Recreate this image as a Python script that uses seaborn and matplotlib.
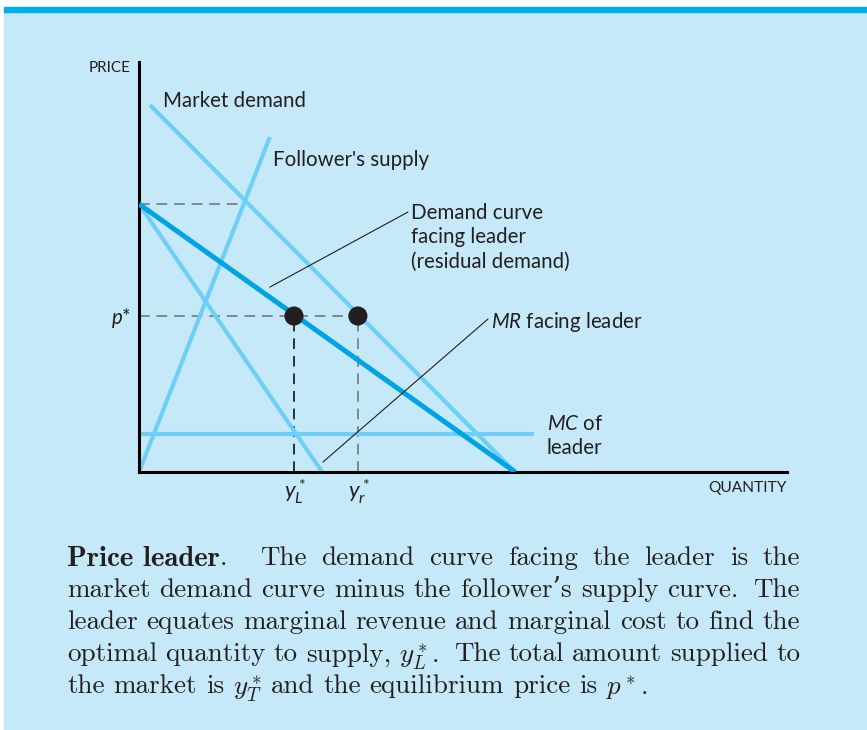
import numpy as np
import pandas as pd
import matplotlib
matplotlib.use("Agg")
import matplotlib.pyplot as plt
import seaborn as sns
from matplotlib.patches import Rectangle

# --- データ (図から読み取った値, 原点基準) ---
market_q = [0.29, 10.0]
market_p = [13.7, 0.0]
follower_q = [0.0, 3.48]
follower_p = [0.0, 12.5]
residual_q = [0.0, 10.0]
residual_p = [10.0, 0.0]
mr_q = [0.0, 4.87]
mr_p = [10.0, 0.0]
mc_q = [0.0, 10.5]
mc_p = [1.42, 1.42]
p_top, q_top = 10.0, 2.82          # 需要曲線の切片 / 追随者供給との交点
p_star = 5.82
yL_star, yr_star = 4.12, 5.82
x_max, y_max = 17.23, 15.3

caption = [
    [[("Price leader", True), (".", False)], "QUAD", "The", "demand", "curve", "facing", "the", "leader", "is", "the"],
    ["market", "demand", "curve", "minus", "the", "follower\u2019s", "supply", "curve.", "QUAD2", "The"],
    ["leader", "equates", "marginal", "revenue", "and", "marginal", "cost", "to", "find", "the"],
    ["optimal", "quantity", "to", "supply,", r"$y_L^*$.", "QUAD2", "The", "total", "amount", "supplied", "to"],
    ["the", "market", "is", r"$y_T^*$", "and", "the", "equilibrium", "price", "is", r"$p^*$."],
]

# --- スタイル ---
sns.set_theme(style="white")
plt.rcParams['font.family'] = ['Lato', 'DejaVu Sans']
plt.rcParams['mathtext.fontset'] = 'custom'
plt.rcParams['mathtext.it'] = 'Lato:italic'
plt.rcParams['mathtext.rm'] = 'Lato'

W, H = 867, 730
bg = '#c6e9f9'
light = '#6dcff6'
dark = '#00a3e4'
ink = '#231f20'
gray = '#6d6e71'

fig = plt.figure(figsize=(W / 100, H / 100), dpi=100)
fig.patch.set_facecolor('white')
fx = lambda x: x / W
fy = lambda y: 1 - y / H
fig.patches.append(Rectangle((fx(4), 0), 1, fy(11), transform=fig.transFigure, color=bg, zorder=-2))
fig.patches.append(Rectangle((fx(4), fy(12)), 1, 5 / H, transform=fig.transFigure, color='#00aeef', zorder=-2))

ax = fig.add_axes([fx(139), fy(472), 648 / W, 410 / H])
ax.set_zorder(2)
ax.set_facecolor('none')
ax.set_xlim(0, x_max); ax.set_ylim(0, y_max)
ax.set_xticks([]); ax.set_yticks([])
for s in ['top', 'right']:
    ax.spines[s].set_visible(False)
for s in ['left', 'bottom']:
    ax.spines[s].set_color('black'); ax.spines[s].set_linewidth(2.2)

# 曲線
for q, p in [(market_q, market_p), (follower_q, follower_p), (mr_q, mr_p), (mc_q, mc_p)]:
    sns.lineplot(x=q, y=p, ax=ax, color=light, lw=3.0, solid_capstyle='butt', zorder=2)
sns.lineplot(x=residual_q, y=residual_p, ax=ax, color=dark, lw=3.6, solid_capstyle='butt', zorder=3)

# 破線
dash = dict(lw=1.1, dashes=(7, 4.5), zorder=1)
ax.plot([0, q_top], [p_top, p_top], color=gray, **dash)
ax.plot([0, yr_star], [p_star, p_star], color=gray, **dash)
ax.plot([yL_star, yL_star], [0, p_star], color='black', **dash)
ax.plot([yr_star, yr_star], [0, p_star], color=gray, **dash)
sns.scatterplot(x=[yL_star, yr_star], y=[p_star, p_star], ax=ax, s=190, color='#231f20', edgecolor='none', zorder=5)

# 引き出し線
ax.plot([3.48, 7.15], [6.90, 9.70], color=ink, lw=0.8, zorder=4)
ax.plot([4.89, 9.28], [0.37, 5.71], color=ink, lw=0.8, zorder=4)

# ラベル
lab = dict(color=ink, size=14.8)
fig.text(fx(131), fy(68), 'PRICE', ha='right', va='center', color=ink, size=11)
fig.text(fx(787), fy(488), 'QUANTITY', ha='right', va='center', color=ink, size=11.2)
fig.text(fx(163), fy(101), 'Market demand', va='center', **lab)
fig.text(fx(273), fy(160), "Follower's supply", va='center', **lab)
fig.text(fx(411), fy(203), 'Demand curve\nfacing leader\n(residual demand)', va='top', linespacing=1.27, **lab)
fig.text(fx(491), fy(322), '$MR$ facing leader', va='center', **lab)
fig.text(fx(547), fy(436), '$MC$ of\nleader', va='center', linespacing=1.22, **lab)
fig.text(fx(131), fy(318), '$p$*', ha='right', va='center', **lab)
fig.text(fx(295), fy(492), '$y_L^*$', ha='center', va='center', color=ink, size=16)
fig.text(fx(359), fy(492), '$y_r^*$', ha='center', va='center', color=ink, size=16)

# キャプション (両端揃え)
cap_size = 19.5
r = fig.canvas.get_renderer()
x0, x1 = 67, 800
for i, words in enumerate(caption):
    y = 556 + 32 * i
    items = []
    quad = 0
    for w in words:
        if isinstance(w, str) and w.startswith("QUAD"):
            g = 18 if w == "QUAD" else 6
            quad += g
            items.append(("gap", g))
            continue
        segs = w if isinstance(w, list) else [(w, False)]
        ts = []
        for s, bold in segs:
            t = fig.text(0, fy(y), s, color=ink, size=20.8 if bold else cap_size, va='center_baseline',
                         family=['cmb10' if bold else 'cmr10', 'DejaVu Serif'], math_fontfamily='cm')
            ts.append((t, t.get_window_extent(renderer=r).width))
        items.append(("word", ts))
    words_only = [it for it in items if it[0] == "word"]
    tot = sum(wd for it in words_only for _, wd in it[1])
    n = len(words_only)
    if i < len(caption) - 1:
        gap = (x1 - x0 - tot - quad) / (n - 1)
    else:
        gap = 0.33 * cap_size * 100 / 72
    x = x0
    first = True
    for kind, val in items:
        if kind == "gap":
            x += val
            continue
        if not first:
            x += gap
        first = False
        for t, wd in val:
            t.set_x(fx(x)); x += wd

fig.savefig('out.png', dpi=100, facecolor=fig.get_facecolor())
